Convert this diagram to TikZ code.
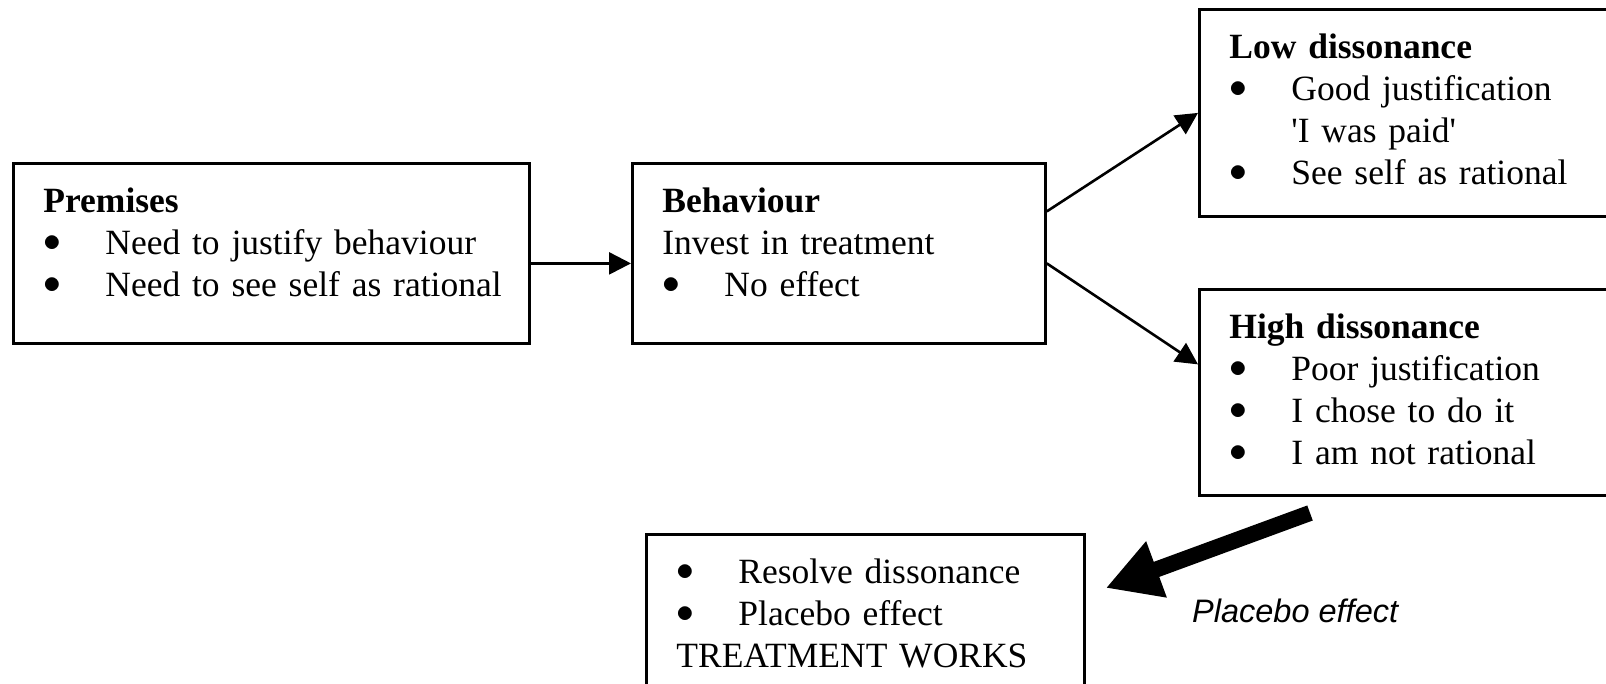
\RequirePackage{fix-cm}
\documentclass[tikz,border=0pt]{standalone}
\usepackage{fontspec}
\setmainfont{Liberation Serif}
\newfontfamily\placebofont{Liberation Sans}
\usepackage{tikz}
\usetikzlibrary{arrows.meta}

\newcommand{\bul}{\makebox[62pt][l]{\raisebox{3pt}{$\bullet$}}}
\newcommand{\toprule}{\rule{0pt}{49pt}}
\newcommand{\botrule}[1]{\rule[-#1]{0pt}{0pt}}

\begin{document}
\begin{tikzpicture}[x=1pt,y=-1pt,
  box/.style={draw,line width=2.8pt,anchor=north west,inner xsep=30pt,inner ysep=0pt,
    align=left,font=\fontsize{35.5}{42}\selectfont},
  link/.style={line width=2.6pt,-{Triangle[length=22pt,width=22pt]}},
  bigarrow/.style={line width=16pt,-{Triangle[length=54pt,width=56pt]}}]
\useasboundingbox[fill=white] (0,0) rectangle (1606,684);

\node[box,text width=456pt] (premises) at (12,162)
  {\toprule\textbf{Premises}\\
   \mbox{\bul Need to justify behaviour}\\
   \mbox{\bul Need to see self as rational}\botrule{47pt}};
\node[box,text width=353pt] (behaviour) at (631,162)
  {\toprule\textbf{Behaviour}\\
   Invest in treatment\\
   \bul No effect\botrule{47pt}};
\node[box,text width=360pt] (low) at (1198,8)
  {\toprule\textbf{Low dissonance}\\
   \bul Good justification\\
   \hspace*{62pt}\textquotesingle I was paid\textquotesingle\\
   \mbox{\bul See self as rational}\botrule{32pt}};
\node[box,text width=360pt] (high) at (1198,288)
  {\toprule\textbf{High dissonance}\\
   \bul Poor justification\\
   \bul I chose to do it\\
   \bul I am not rational\botrule{31pt}};
\node[box,text width=378pt] (result) at (645,533)
  {\toprule\bul Resolve dissonance\\
   \bul Placebo effect\\
   TREATMENT WORKS\botrule{40pt}};
\node[anchor=base west,inner sep=0pt,font=\placebofont\itshape\fontsize{32.5}{38}\selectfont]
  (placebolabel) at (1192,622) {Placebo effect};

\draw[link] ([yshift=-10pt]premises.east) -- ([yshift=-10pt]behaviour.west);
\draw[link] ([yshift=42pt]behaviour.east) -- (low.west);
\draw[link] ([yshift=-10pt]behaviour.east) -- ([yshift=28pt]high.west);

\coordinate (placebotail) at (1310,513);
\draw[bigarrow] (placebotail) -- ([xshift=20pt,yshift=-55pt]result.north east);
\end{tikzpicture}
\end{document}
